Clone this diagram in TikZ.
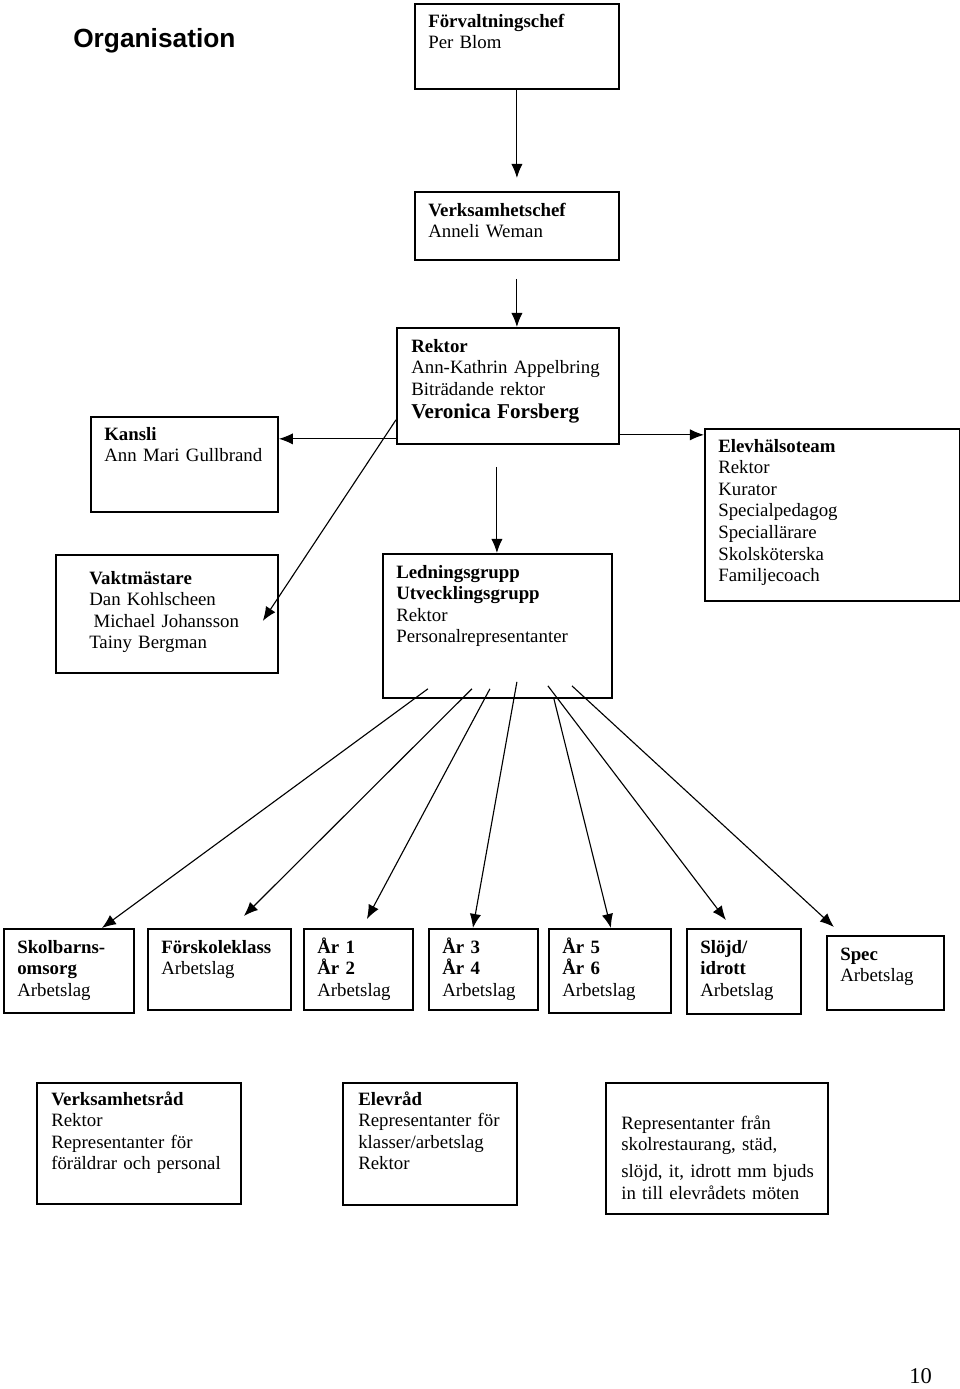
\documentclass[tikz,border=0pt]{standalone}
\usepackage{fontspec}
\setmainfont{Liberation Serif}
\newfontfamily\titlefont{Liberation Sans}
\usepackage{tikz}
\usetikzlibrary{arrows.meta}
\usetikzlibrary{calc}
\tikzset{every picture/.style={x=0.025cm,y=-0.025cm},
box/.style 2 args={draw,line width=1.3pt,anchor=north west,inner sep=0pt,minimum width=#1*0.025cm,minimum height=#2*0.025cm},
txt/.style={anchor=base west,align=left,inner sep=0pt,text width=6cm,font=\fontsize{13.4}{15.4}\selectfont},
arr/.style={-{Latex[length=10pt,width=8pt]},line width=0.8pt}}

\begin{document}
\begin{tikzpicture}
\useasboundingbox (0,0) rectangle (960,1389);
\node (title) [anchor=base west,inner sep=0pt,font=\titlefont\bfseries\fontsize{18.7}{22}\selectfont] at (73,47) {Organisation};

% ledning
\node (fchef) [box={204}{85}] at (414,3) {};
\node (fchef-l) [txt] at (428,27) {\textbf{Förvaltningschef}\\Per Blom};
\node (vchef) [box={204}{68}] at (414,191) {};
\node (vchef-l) [txt] at (428,216) {\textbf{Verksamhetschef}\\Anneli Weman};
\node (rektor) [box={222}{116}] at (396,327) {};
\node (rektor-l) [txt] at (411,352) {\textbf{Rektor}\\Ann-Kathrin Appelbring\\Biträdande rektor\\[1pt]{\fontsize{15}{17}\selectfont\bfseries Veronica Forsberg}};
\node (ledn) [box={229}{144}] at (382,553) {};
\node (ledn-l) [txt] at (396,578) {\textbf{Ledningsgrupp}\\\textbf{Utvecklingsgrupp}\\Rektor\\Personalrepresentanter};
\node (kansli) [box={187}{95}] at (90,416) {};
\node (kansli-l) [txt] at (104,440) {\textbf{Kansli}\\Ann Mari Gullbrand};
\node (vakt) [box={222}{118}] at (55,554) {};
\node (vakt-l) [txt] at (89,584) {\textbf{Vaktmästare}\\Dan Kohlscheen\\\hspace*{3pt}Michael Johansson\\Tainy Bergman};
\node (elev) [box={255}{172}] at (704,428) {};
\node (elev-l) [txt] at (718,452) {\textbf{Elevhälsoteam}\\Rektor\\Kurator\\Specialpedagog\\Speciallärare\\Skolsköterska\\Familjecoach};

% arbetslag
\foreach \id/\x/\y/\w/\h/\lbl in {skol/3/928/130/84/{\textbf{Skolbarns-}\\\textbf{omsorg}\\Arbetslag},
  fsk/147/928/143/81/{\textbf{Förskoleklass}\\Arbetslag},
  ar1/303/928/109/81/{\textbf{År 1}\\\textbf{År 2}\\Arbetslag},
  ar3/428/928/109/81/{\textbf{År 3}\\\textbf{År 4}\\Arbetslag},
  ar5/548/928/122/84/{\textbf{År 5}\\\textbf{År 6}\\Arbetslag},
  slojd/686/928/114/85/{\textbf{Slöjd/}\\\textbf{idrott}\\Arbetslag},
  spec/826/935/117/74/{\textbf{Spec}\\Arbetslag}} {
\node (\id) [box={\w}{\h}] at (\x,\y) {};
\node (\id-l) [txt] at ($(\id.north west)+(14,25)$) {\lbl};
}

% råd
\node (verks) [box={204}{121}] at (36,1082) {};
\node (verks-l) [txt] at (51,1105) {\textbf{Verksamhetsråd}\\Rektor\\Representanter för\\föräldrar och personal};
\node (elevrad) [box={174}{122}] at (342,1082) {};
\node (elevrad-l) [txt] at (358,1105) {\textbf{Elevråd}\\Representanter för\\klasser/arbetslag\\Rektor};
\node (repr) [box={222}{131}] at (605,1082) {};
\node (repr-l) [txt] at (621,1129) {Representanter från\\skolrestaurang, städ,\\[4pt]slöjd, it, idrott mm bjuds\\in till elevrådets möten};

% pilar
\draw[arr,shorten >=0.325cm] (fchef) -- (vchef);
\draw[arr] ($(vchef.south)+(0,18)$) -- (vchef.south |- rektor.north);
\draw[arr] ($(rektor.south)+(-11,22)$) coordinate (r1) -- (r1 |- ledn.north);
\draw[arr] ($(rektor.south west)+(0,-6)$) coordinate (r2) -- (r2 -| kansli.east);
\draw[arr] ($(rektor.south west)+(0,-25)$) -- ($(vakt.east)+(-16,7)$);
\draw[arr] ($(rektor.south east)+(0,-10)$) coordinate (r3) -- (r3 -| elev.west);
\foreach \id/\sx/\sy/\tx/\ty in {skol/-69.5/-10/33/0, fsk/-25.5/-10/24.5/-12, ar1/-7.5/-10/8.5/-9, ar3/19.5/-17/-10.5/0, ar5/56.5/0/1/0, slojd/50.5/-13/-18/-8, spec/74.5/-13/-51.5/-8}
\draw[arr] ($(ledn.south)+(\sx,\sy)$) -- ($(\id.north)+(\tx,\ty)$);

\node (pnum) [anchor=base west,inner sep=0pt,font=\fontsize{16}{18}\selectfont] at (909,1383) {10};
\end{tikzpicture}
\end{document}
